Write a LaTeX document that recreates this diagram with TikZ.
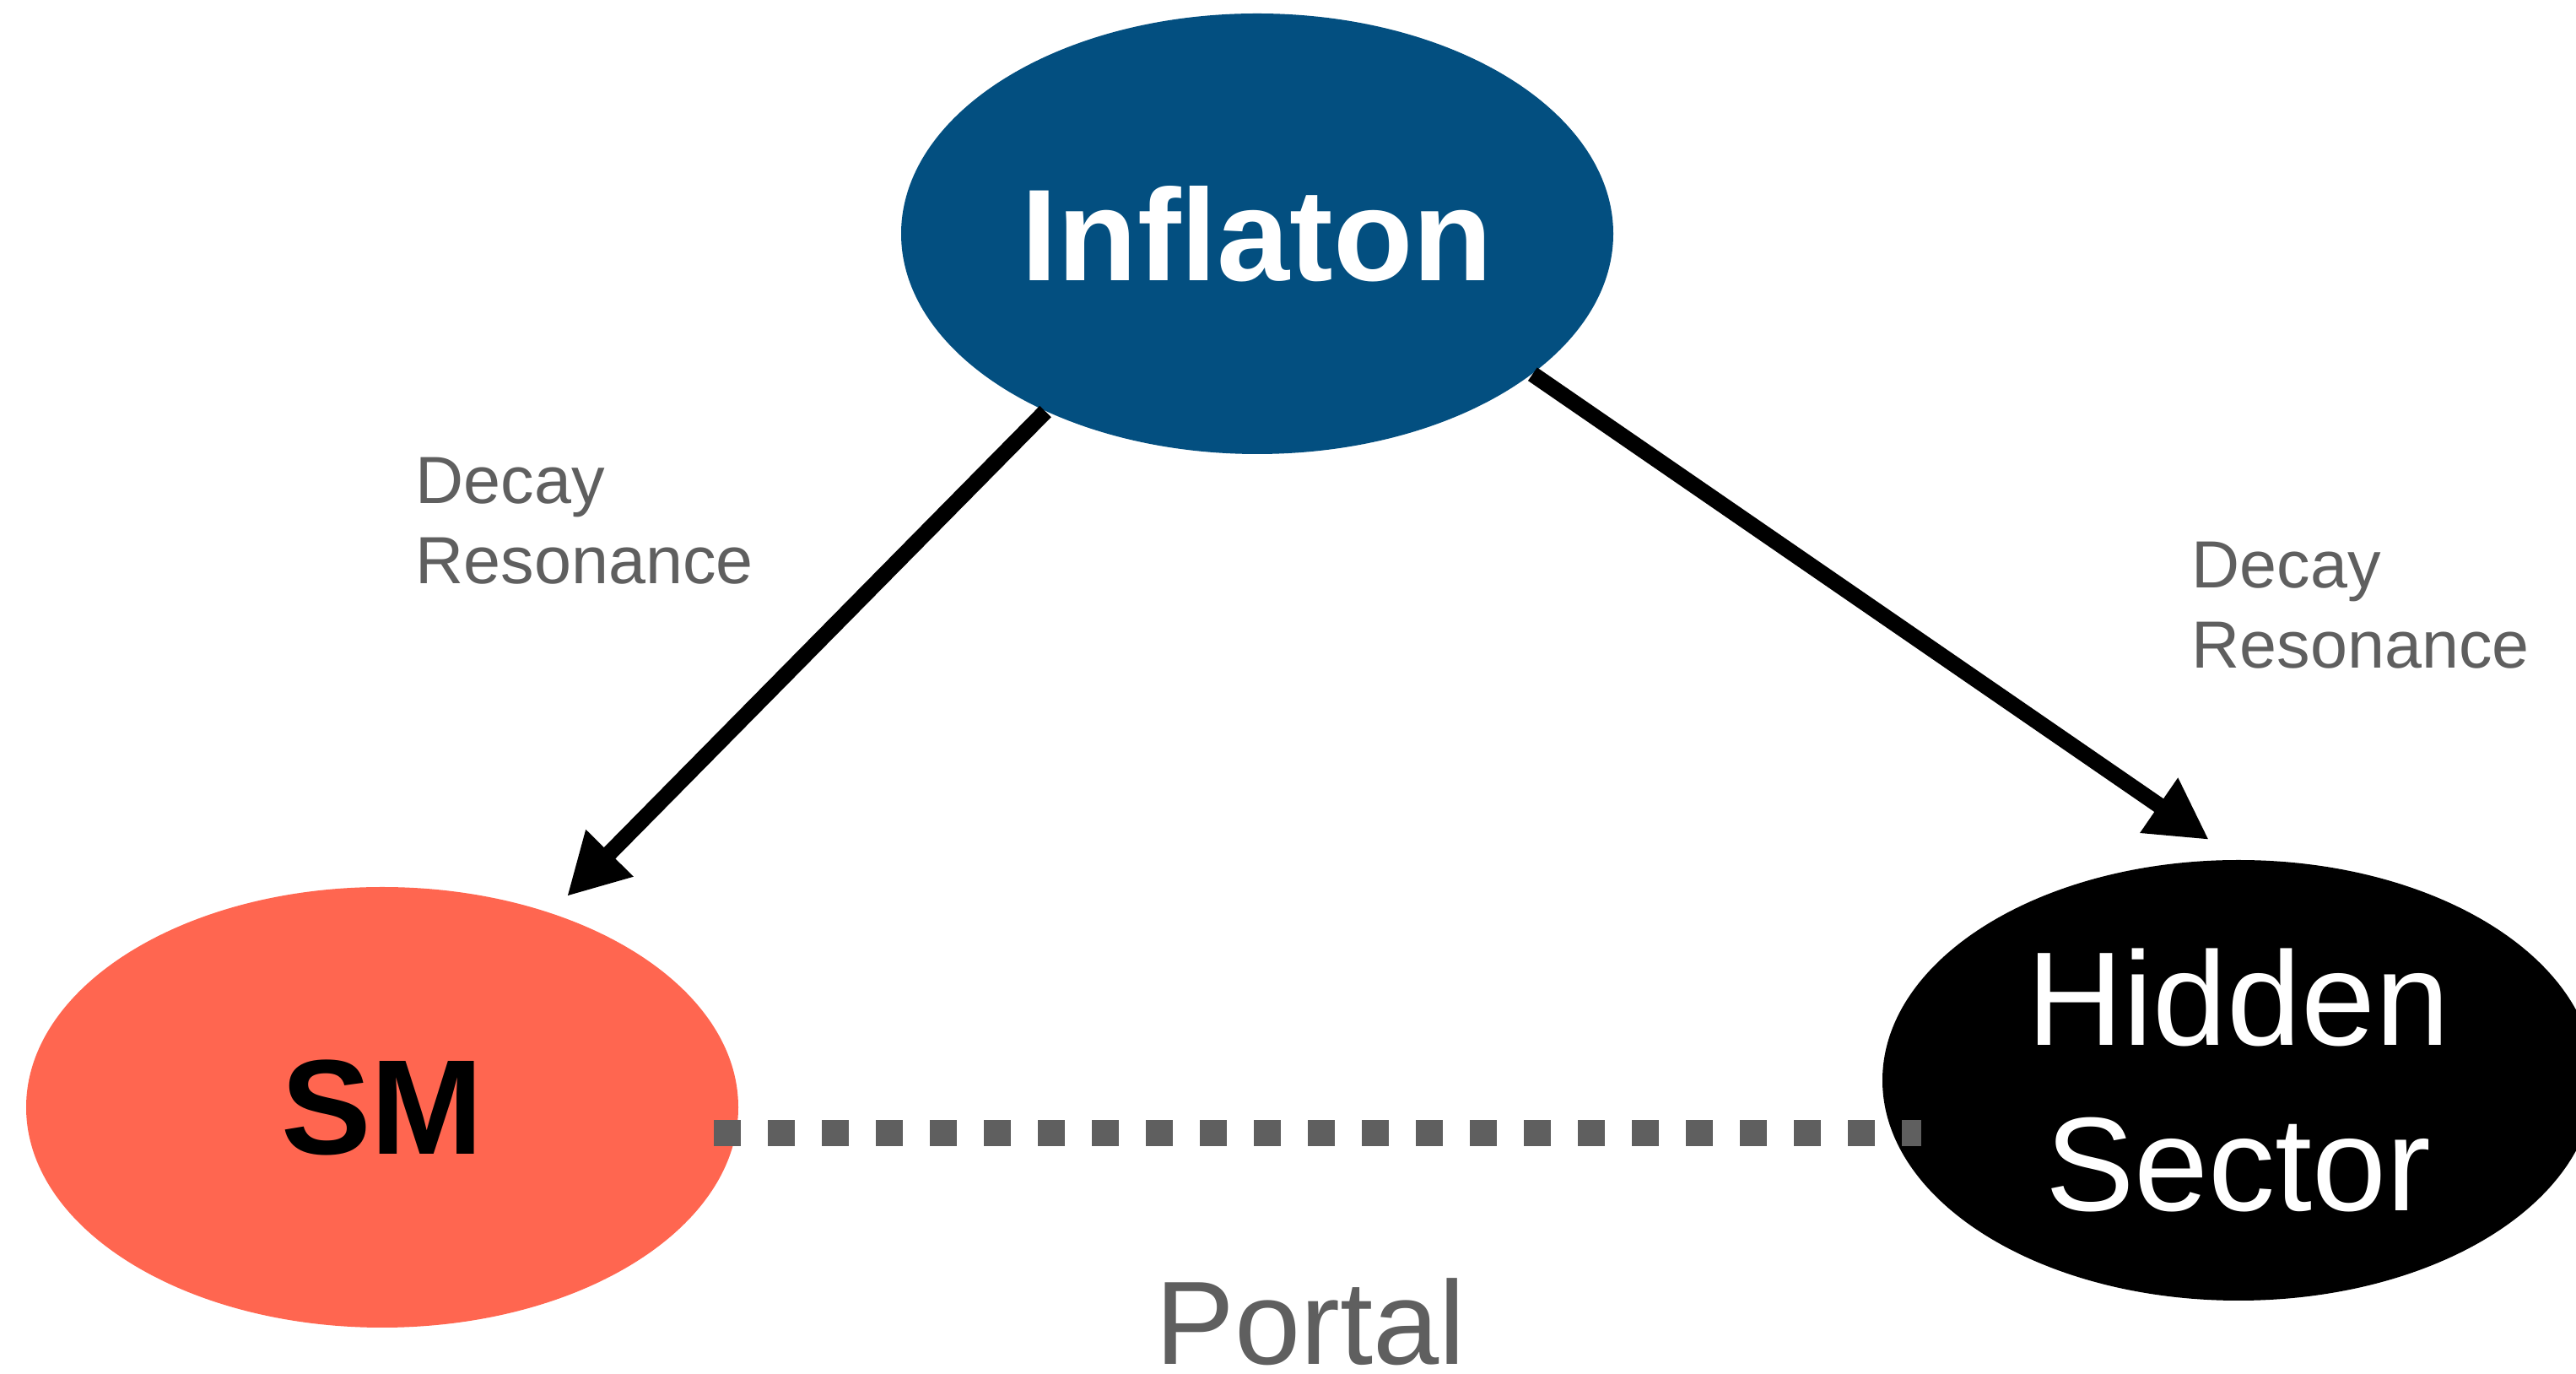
\documentclass[tikz,border=0pt]{standalone}
\usepackage{fontspec}
\setmainfont{Liberation Sans}
\usetikzlibrary{arrows.meta,shapes.geometric}
\definecolor{infblue}{RGB}{3,79,128}
\definecolor{smred}{RGB}{255,102,80}
\definecolor{txtgray}{RGB}{95,95,95}
\begin{document}
\begin{tikzpicture}[
  blob/.style={ellipse, minimum width=8.44cm, minimum height=5.22cm, inner sep=0pt, align=center},
  arr/.style={line width=0.19cm, -{Triangle[length=0.72cm,width=0.74cm]}},
  portalline/.style={line width=0.31cm, color=txtgray, dash pattern=on 0.32cm off 0.32cm},
  lbl/.style={text=txtgray, font=\fontsize{22.5}{27.3}\selectfont, align=left, inner sep=0pt},
]
\useasboundingbox (0,0) rectangle (30.53,16.28);
\clip (0,0) rectangle (30.53,16.28);
\fill[white] (0,0) rectangle (30.53,16.28);
\node[blob, fill=infblue, text=white, font=\fontsize{44}{52}\selectfont\bfseries] (inf) at (14.90,13.51) {Inflaton};
\node[blob, fill=smred, text=black, font=\fontsize{45.5}{54}\selectfont\bfseries] (sm) at (4.53,3.16) {SM};
\node[blob, fill=black, text=white, font=\fontsize{45}{55.5}\selectfont] (hid) at (26.53,3.48) {\raisebox{-0.1cm}{Hidden}\\\raisebox{-0.1cm}{Sector}};
\coordinate (tipL) at (6.72,5.66);
\coordinate (tipR) at (26.18,6.33);
\draw[arr] (inf.220) -- (tipL);
\draw[arr] (inf.-27) -- (tipR);
\coordinate (pL) at (8.46,2.855);
\coordinate (pR) at (22.77,2.855);
\draw[portalline] (pL) -- (pR);
\node[lbl, anchor=base west] (lblL) at (4.92,9.36) {Decay\\Resonance};
\node[lbl, anchor=base west] (lblR) at (25.97,8.36) {Decay\\Resonance};
\node[text=txtgray, font=\fontsize{40}{48}\selectfont, anchor=base west, inner sep=0pt] (portal) at (13.69,0.11) {Portal};
\end{tikzpicture}
\end{document}
